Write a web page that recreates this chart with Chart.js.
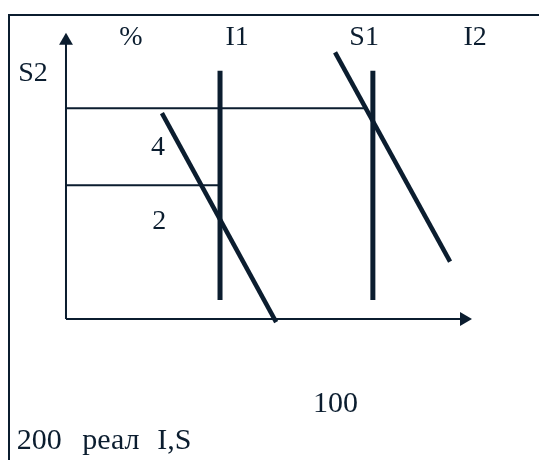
<!DOCTYPE html>
<html>
<head>
<meta charset="utf-8">
<script src="https://cdn.jsdelivr.net/npm/chart.js@4/dist/chart.umd.min.js"></script>
<style>
  html, body { margin: 0; padding: 0; background: #fff; }
  #wrap { position: relative; width: 539px; height: 460px; overflow: hidden; }
  #frame {
    position: absolute; left: 8px; top: 14px; right: -10px; bottom: -10px;
    border-top: 2px solid #0b1d2f; border-left: 2px solid #0b1d2f;
  }
  #chart { position: absolute; left: 0; top: 0; }
</style>
</head>
<body>
<div id="wrap">
  <div id="frame"></div>
  <canvas id="chart" width="539" height="460"></canvas>
</div>
<script>
const INK = "#0b1d2f";

// segments, in chart units (origin = where the axes meet)
const yAxisPts = [[0, 0], [0, 100]];
const xAxisPts = [[0, 0], [100, 0]];
const levelHigh = [[0, 75.7], [75.6, 75.7]];
const levelLow = [[0, 48.1], [38.4, 48.1]];
const lineI1 = [[38.7, 6.8], [38.7, 89.2]];
const lineS1 = [[77.1, 6.8], [77.1, 89.2]];
const lineD1 = [[24.1, 74.0], [52.8, -1.1]];
const lineD2 = [[67.6, 95.8], [96.5, 20.6]];

// text labels
const labelTexts = ["%", "I1", "S1", "I2", "S2", "4", "2", "100", "200", "реал", "I,S"];
const labelX = [16.3, 43.0, 74.9, 102.8, -8.3, 23.1, 23.4, 67.7, -6.7, 11.3, 27.2];
const labelY = [101.0, 101.0, 101.0, 101.0, 88.0, 61.6, 34.9, -30.5, -43.8, -43.8, -43.8];
const labelSize = [28, 28, 28, 28, 28, 28, 28, 30, 30, 30, 30];

function pts(arr) { return arr.map(p => ({ x: p[0], y: p[1] })); }

function seg(arr, width) {
  return {
    data: pts(arr),
    borderColor: INK,
    borderWidth: width,
    pointRadius: 0,
    showLine: true,
    clip: false,
  };
}

function arrowAxis(arr, rot) {
  const d = seg(arr, 2);
  d.pointRadius = [0, 8];
  d.pointStyle = "triangle";
  d.rotation = [0, rot];
  d.backgroundColor = INK;
  d.pointBorderWidth = 0;
  return d;
}

const labelPlugin = {
  id: "labels",
  afterDatasetsDraw(chart) {
    const ctx = chart.ctx;
    const xs = chart.scales.x, ys = chart.scales.y;
    ctx.save();
    ctx.fillStyle = INK;
    ctx.textAlign = "center";
    ctx.textBaseline = "middle";
    for (let i = 0; i < labelTexts.length; i++) {
      ctx.font = `${labelSize[i]}px "Liberation Serif", "DejaVu Serif", serif`;
      ctx.fillText(labelTexts[i], xs.getPixelForValue(labelX[i]), ys.getPixelForValue(labelY[i]));
    }
    ctx.restore();
  }
};

new Chart(document.getElementById("chart"), {
  type: "scatter",
  data: {
    datasets: [
      arrowAxis(yAxisPts, 0),
      arrowAxis(xAxisPts, 90),
      seg(levelHigh, 2),
      seg(levelLow, 2),
      seg(lineI1, 5),
      seg(lineS1, 5),
      seg(lineD1, 4.5),
      seg(lineD2, 4.5),
    ]
  },
  options: {
    responsive: false,
    animation: false,
    events: [],
    layout: { padding: 0, autoPadding: false },
    plugins: { legend: { display: false }, tooltip: { enabled: false } },
    scales: {
      x: { type: "linear", display: false, min: -16.58, max: 118.84 },
      y: { type: "linear", display: false, min: -50.66, max: 114.62 },
    }
  },
  plugins: [labelPlugin]
});
</script>
</body>
</html>
